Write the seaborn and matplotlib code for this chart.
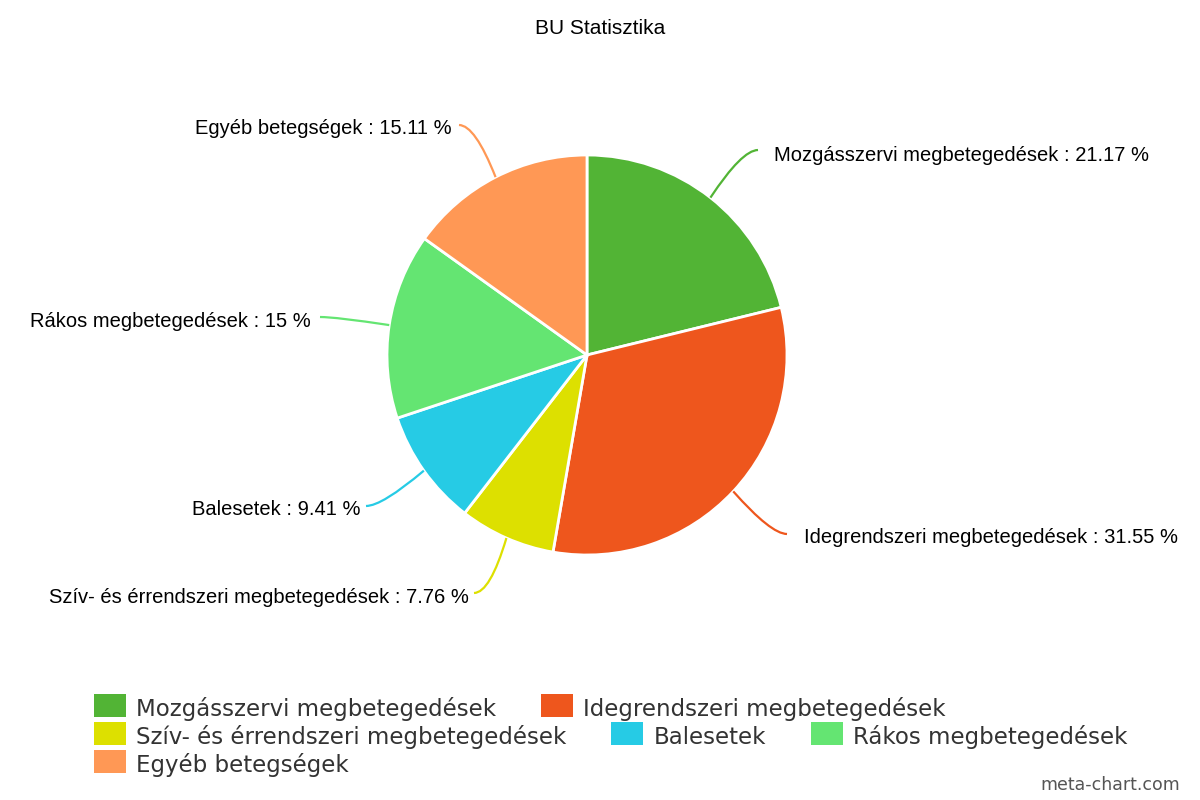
import matplotlib
matplotlib.use("Agg")
import matplotlib.pyplot as plt
import seaborn as sns
import numpy as np
from matplotlib.path import Path
from matplotlib.patches import PathPatch, Rectangle

# ---- data ----
categories = [
    "Mozgásszervi megbetegedések",
    "Idegrendszeri megbetegedések",
    "Szív- és érrendszeri megbetegedések",
    "Balesetek",
    "Rákos megbetegedések",
    "Egyéb betegségek",
]
values = [21.17, 31.55, 7.76, 9.41, 15, 15.11]
value_labels = ["21.17", "31.55", "7.76", "9.41", "15", "15.11"]
colors = ["#52b435", "#ee561d", "#dde000", "#26cbe5", "#64e572", "#ff9855"]
title = "BU Statisztika"
watermark = "meta-chart.com"

sns.set_theme(style="white")
plt.rcParams["font.family"] = ["Liberation Sans", "DejaVu Sans"]

W, H = 1200, 800
fig = plt.figure(figsize=(12, 8), dpi=100)
ax = fig.add_axes([0, 0, 1, 1])

def Y(y):
    return H - y

cx, cy, R = 587, 355, 200
wedges, _ = ax.pie(values, colors=colors, startangle=90, counterclock=False,
                   radius=R, center=(cx, Y(cy)),
                   wedgeprops=dict(edgecolor="white", linewidth=2))
ax.set_xlim(0, W)
ax.set_ylim(0, H)
ax.set_aspect("equal")
ax.axis("off")

# label layout: line end (px), text x, text baseline, side (+1 right, -1 left)
label_layout = [
    ((758, 150), 774, 161, 1),
    ((787, 534), 804, 543, 1),
    ((474, 593), 469, 603, -1),
    ((366, 506), 360, 515, -1),
    ((320, 317), 311, 327, -1),
    ((459, 125), 452, 134, -1),
]

for w, cat, vl, col, (end, tx, ty, side) in zip(wedges, categories, value_labels, colors, label_layout):
    mid = np.deg2rad((w.theta1 + w.theta2) / 2)
    p0 = (cx + R * np.cos(mid), Y(cy) + R * np.sin(mid))
    p2 = (end[0], Y(end[1]))
    c = (end[0] - 16 * side, Y(end[1]))
    path = Path([p0, c, p2], [Path.MOVETO, Path.CURVE3, Path.CURVE3])
    ax.add_patch(PathPatch(path, facecolor="none", edgecolor=col, lw=1.6))
    ax.text(tx, Y(ty), f"{cat} : {vl} %", ha="left" if side > 0 else "right",
            va="baseline", fontsize=14.5, color="#000000")

ax.text(600, Y(29), title, ha="center", va="center", fontsize=15, color="#000000")

# legend (flow layout)
leg_font = dict(family=["DejaVu Sans"], fontsize=16.5, color="#333333")
fig.canvas.draw()
renderer = fig.canvas.get_renderer()
x0, xmax = 94, 1180
row_y = [705.5, 733.5, 761.5]
row = 0
x = x0
for cat, col in zip(categories, colors):
    t = ax.text(0, 0, cat, ha="left", va="baseline", **leg_font)
    bb = t.get_window_extent(renderer)
    tw = bb.width
    if x > x0 and x + 42 + tw > xmax:
        row += 1
        x = x0
    yy = row_y[row]
    ax.add_patch(Rectangle((x, Y(yy) - 11.5), 32, 23, facecolor=col, edgecolor="none"))
    t.set_position((x + 42, Y(yy + 10.5)))
    x = x + 42 + tw + 45

ax.text(1180, Y(785), watermark, ha="right", va="center",
        family=["DejaVu Sans"], fontsize=12.5, color="#555555")

fig.savefig("out.png", dpi=100)
